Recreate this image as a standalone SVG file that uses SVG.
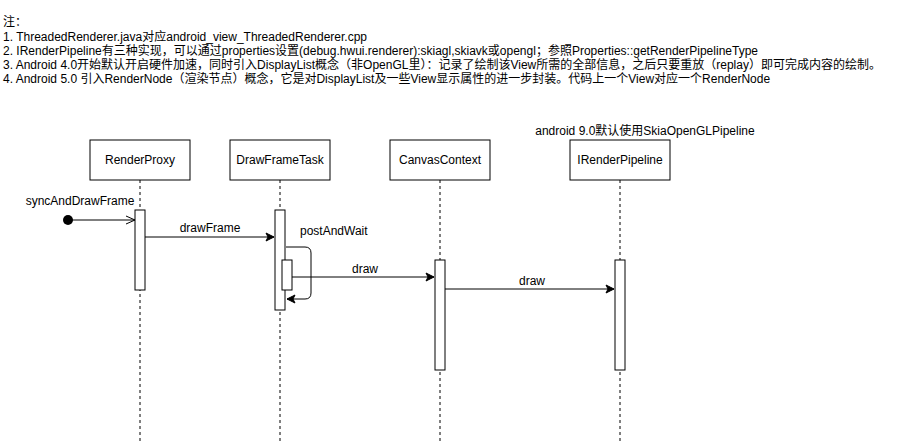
<svg xmlns="http://www.w3.org/2000/svg" width="901" height="441" viewBox="0 0 901 441">
<style>
text{font-family:"Liberation Sans","Noto Sans CJK SC",sans-serif;font-size:12px;fill:#000}
.c{text-anchor:middle}
.box{fill:#fff;stroke:#000;stroke-width:1}
.life{stroke:#000;stroke-width:1;stroke-dasharray:3 3;fill:none}
.act{fill:#fff;stroke:#000;stroke-width:1}
.msg{stroke:#000;stroke-width:1;fill:none}
</style>
<defs>
<marker id="fa" markerWidth="10" markerHeight="10" refX="9" refY="5" orient="auto" markerUnits="userSpaceOnUse">
<path d="M1,1 L9,5 L1,9 L3,5 Z" fill="#000" stroke="#000" stroke-width="1"/>
</marker>
<marker id="oa" markerWidth="12" markerHeight="12" refX="10" refY="6" orient="auto" markerUnits="userSpaceOnUse">
<path d="M1,2 L10,6 L1,10" fill="none" stroke="#000" stroke-width="1"/>
</marker>
</defs>
<rect width="901" height="441" fill="#fff"/>
<g id="notes">
<text x="3" y="26">注：</text>
<text x="3" y="41">1. ThreadedRenderer.java对应android_view_ThreadedRenderer.cpp</text>
<text x="3" y="55">2. IRenderPipeline有三种实现，可以通过properties设置(debug.hwui.renderer):skiagl,skiavk或opengl；参照Properties::getRenderPipelineType</text>
<text x="3" y="69">3. Android 4.0开始默认开启硬件加速，同时引入DisplayList概念（非OpenGL里）：记录了绘制该View所需的全部信息，之后只要重放（replay）即可完成内容的绘制。</text>
<text x="3" y="83">4. Android 5.0 引入RenderNode（渲染节点）概念，它是对DisplayList及一些View显示属性的进一步封装。代码上一个View对应一个RenderNode</text>
</g>
<g id="lifelines">
<line class="life" x1="140" y1="180" x2="140" y2="441"/>
<line class="life" x1="280" y1="180" x2="280" y2="441"/>
<line class="life" x1="440" y1="180" x2="440" y2="441"/>
<line class="life" x1="620" y1="180" x2="620" y2="441"/>
</g>
<g id="RenderProxy">
<rect class="box" x="90" y="140" width="100" height="40"/>
<text class="c" x="140" y="164">RenderProxy</text>
<rect class="act" x="135" y="210" width="10" height="80"/>
</g>
<g id="DrawFrameTask">
<rect class="box" x="230" y="140" width="100" height="40"/>
<text class="c" x="280" y="164">DrawFrameTask</text>
<rect class="act" x="275" y="210" width="10" height="100"/>
<rect class="act" x="282" y="260" width="10" height="30"/>
</g>
<g id="CanvasContext">
<rect class="box" x="390" y="140" width="100" height="40"/>
<text class="c" x="440" y="164">CanvasContext</text>
<rect class="act" x="435" y="260" width="10" height="110"/>
</g>
<g id="IRenderPipeline">
<text class="c" x="645" y="135">android 9.0默认使用SkiaOpenGLPipeline</text>
<rect class="box" x="570" y="140" width="100" height="40"/>
<text class="c" x="620" y="164">IRenderPipeline</text>
<rect class="act" x="615" y="260" width="10" height="110"/>
</g>
<g id="connectors">
<circle cx="68" cy="220" r="5" fill="#000"/>
<line class="msg" x1="68" y1="220" x2="135" y2="220" marker-end="url(#oa)"/>
<text class="c" x="80" y="205">syncAndDrawFrame</text>
<line class="msg" x1="145" y1="237" x2="274" y2="237" marker-end="url(#fa)"/>
<text class="c" x="210" y="232">drawFrame</text>
<path class="msg" d="M286,247 H305 Q311,247 311,253 V293 Q311,299 305,299 H287" marker-end="url(#fa)"/>
<text x="300" y="235">postAndWait</text>
<line class="msg" x1="292" y1="277" x2="434" y2="277" marker-end="url(#fa)"/>
<text class="c" x="365" y="273">draw</text>
<line class="msg" x1="445" y1="289" x2="614" y2="289" marker-end="url(#fa)"/>
<text class="c" x="532" y="285">draw</text>
</g>
</svg>
